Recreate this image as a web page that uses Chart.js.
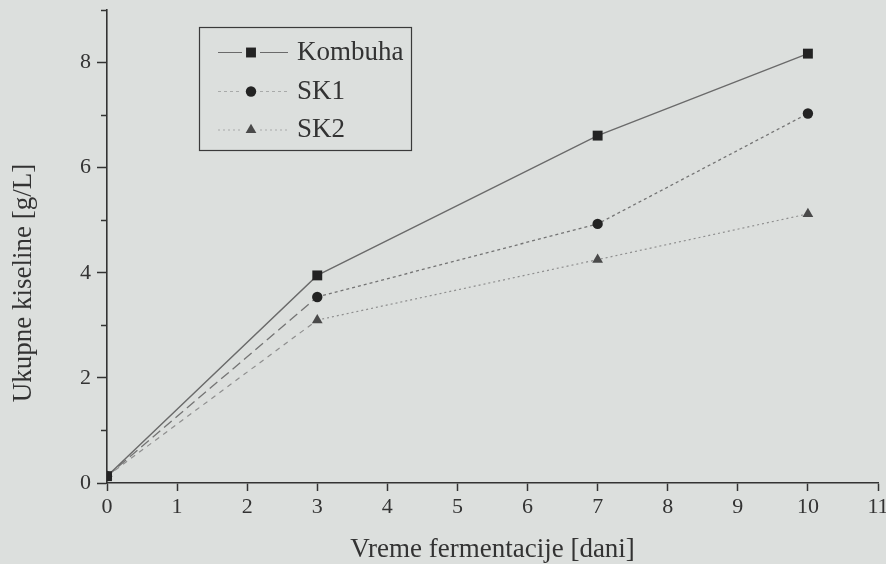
<!DOCTYPE html>
<html>
<head>
<meta charset="utf-8">
<title>Ukupne kiseline</title>
<script src="https://cdn.jsdelivr.net/npm/chart.js"></script>
<style>
  html, body { margin: 0; padding: 0; background: #dcdfdd; }
  #wrap { width: 886px; height: 564px; }
</style>
</head>
<body>
<div id="wrap"><canvas id="c" width="886" height="564"></canvas></div>
<script>
// Fermentation time (days) and total acids (g/L)
const days = [0, 3, 7, 10];
const kombuha = [0.13, 3.95, 6.61, 8.17];
const sk1 = [0.13, 3.54, 4.93, 7.03];
const sk2 = [0.13, 3.10, 4.25, 5.12];
const seriesNames = ['Kombuha', 'SK1', 'SK2'];

// Axis ticks
const xTicks = [0, 1, 2, 3, 4, 5, 6, 7, 8, 9, 10, 11];
const yMajorTicks = [0, 2, 4, 6, 8];
const yMinorTicks = [1, 3, 5, 7, 9];

const xTitle = 'Vreme fermentacije [dani]';
const yTitle = 'Ukupne kiseline [g/L]';

const FONT = '"Liberation Serif", "DejaVu Serif", serif';
const INK = '#333333';

const toPoints = vals => days.map((d, i) => ({ x: d, y: vals[i] }));

const datasets = [
  {
    label: seriesNames[0],
    data: toPoints(kombuha),
    borderColor: '#6a6a6a',
    borderWidth: 1.3,
    pointStyle: 'rect',
    pointRadius: 7,
    pointBackgroundColor: '#232323',
    pointBorderColor: '#232323',
    pointBorderWidth: 0,
    legendDash: []
  },
  {
    label: seriesNames[1],
    data: toPoints(sk1),
    borderColor: '#747474',
    borderWidth: 1.3,
    segment: { borderDash: ctx => ctx.p0DataIndex === 0 ? [10, 5] : [3, 3] },
    pointStyle: 'circle',
    pointRadius: 5.2,
    pointBackgroundColor: '#232323',
    pointBorderColor: '#232323',
    pointBorderWidth: 0,
    legendDash: [3, 3]
  },
  {
    label: seriesNames[2],
    data: toPoints(sk2),
    borderColor: '#8e8e8e',
    borderWidth: 1.2,
    segment: { borderDash: ctx => ctx.p0DataIndex === 0 ? [5, 5] : [2, 3] },
    pointStyle: 'triangle',
    pointRadius: 6.2,
    pointBackgroundColor: '#4a4a4a',
    pointBorderColor: '#4a4a4a',
    pointBorderWidth: 0,
    legendDash: [2, 3]
  }
];

// Short minor tick marks on the value axis, plus the rotated value-axis title
const yAxisExtrasPlugin = {
  id: 'yAxisExtras',
  afterDraw(chart) {
    const y = chart.scales.y;
    const ctx = chart.ctx;
    ctx.save();
    ctx.strokeStyle = INK;
    ctx.lineWidth = 1.5;
    yMinorTicks.forEach(v => {
      const py = Math.round(y.getPixelForValue(v)) + 0.5;
      ctx.beginPath();
      ctx.moveTo(y.right - 6, py);
      ctx.lineTo(y.right, py);
      ctx.stroke();
    });
    ctx.translate(24, 283);
    ctx.rotate(-Math.PI / 2);
    ctx.fillStyle = INK;
    ctx.font = '27px ' + FONT;
    ctx.textAlign = 'center';
    ctx.textBaseline = 'middle';
    ctx.fillText(yTitle, 0, 0);
    ctx.restore();
  }
};

function drawMarker(ctx, style, x, y, r, color) {
  ctx.fillStyle = color;
  ctx.beginPath();
  if (style === 'rect') {
    const s = r * Math.SQRT1_2;
    ctx.rect(x - s, y - s, 2 * s, 2 * s);
  } else if (style === 'circle') {
    ctx.arc(x, y, r, 0, Math.PI * 2);
  } else if (style === 'triangle') {
    const w = r * Math.sqrt(3) / 2;
    ctx.moveTo(x, y - r);
    ctx.lineTo(x + w, y + r / 2);
    ctx.lineTo(x - w, y + r / 2);
    ctx.closePath();
  }
  ctx.fill();
}

// Boxed legend with line-and-marker samples
const boxLegendPlugin = {
  id: 'boxLegend',
  afterDraw(chart) {
    const ctx = chart.ctx;
    const box = { left: 199.5, top: 27.5, right: 411.5, bottom: 150.5 };
    const rows = [52.5, 91.5, 130];
    ctx.save();
    ctx.strokeStyle = '#3a3a3a';
    ctx.lineWidth = 1.2;
    ctx.strokeRect(box.left, box.top, box.right - box.left, box.bottom - box.top);
    chart.data.datasets.forEach((ds, i) => {
      const y = rows[i];
      const cx = 251;
      ctx.strokeStyle = i === 0 ? '#6a6a6a' : '#a8aaa9';
      ctx.lineWidth = 1.2;
      ctx.setLineDash(ds.legendDash);
      ctx.beginPath();
      ctx.moveTo(218, y);
      ctx.lineTo(cx - 9, y);
      ctx.moveTo(cx + 9, y);
      ctx.lineTo(288, y);
      ctx.stroke();
      ctx.setLineDash([]);
      drawMarker(ctx, ds.pointStyle, cx, y, ds.pointRadius, ds.pointBackgroundColor);
      ctx.fillStyle = INK;
      ctx.font = '27px ' + FONT;
      ctx.textAlign = 'left';
      ctx.textBaseline = 'middle';
      ctx.fillText(ds.label, 297, y);
    });
    ctx.restore();
  }
};

new Chart(document.getElementById('c'), {
  type: 'line',
  data: { datasets },
  plugins: [yAxisExtrasPlugin, boxLegendPlugin],
  options: {
    responsive: false,
    animation: false,
    layout: { padding: { left: 0, right: 8, top: 10, bottom: 0 } },
    plugins: {
      legend: { display: false },
      tooltip: { enabled: false },
      title: { display: false }
    },
    elements: { line: { tension: 0 } },
    scales: {
      x: {
        type: 'linear',
        min: xTicks[0],
        max: xTicks[xTicks.length - 1],
        afterBuildTicks: s => { s.ticks = xTicks.map(v => ({ value: v })); },
        afterFit: s => { s.height = 81; s.paddingLeft = 0; s.paddingRight = 0; },
        ticks: {
          autoSkip: false,
          maxRotation: 0,
          padding: 3,
          color: INK,
          font: { family: FONT, size: 22 }
        },
        grid: {
          display: true,
          drawOnChartArea: false,
          drawTicks: true,
          tickLength: 8,
          tickColor: INK,
          tickWidth: 1.5
        },
        border: { display: true, color: INK, width: 1.6 },
        title: {
          display: true,
          text: xTitle,
          color: INK,
          font: { family: FONT, size: 27 },
          padding: { top: 0, bottom: -2 }
        }
      },
      y: {
        type: 'linear',
        min: 0,
        max: 9,
        afterBuildTicks: s => { s.ticks = yMajorTicks.map(v => ({ value: v })); },
        afterFit: s => { s.width = 107; s.paddingTop = 0; s.paddingBottom = 0; },
        ticks: {
          autoSkip: false,
          padding: 6,
          color: INK,
          font: { family: FONT, size: 22 }
        },
        grid: {
          display: true,
          drawOnChartArea: false,
          drawTicks: true,
          tickLength: 10,
          tickColor: INK,
          tickWidth: 1.5
        },
        border: { display: true, color: INK, width: 1.6 },
        title: { display: false }
      }
    }
  }
});
</script>
</body>
</html>
